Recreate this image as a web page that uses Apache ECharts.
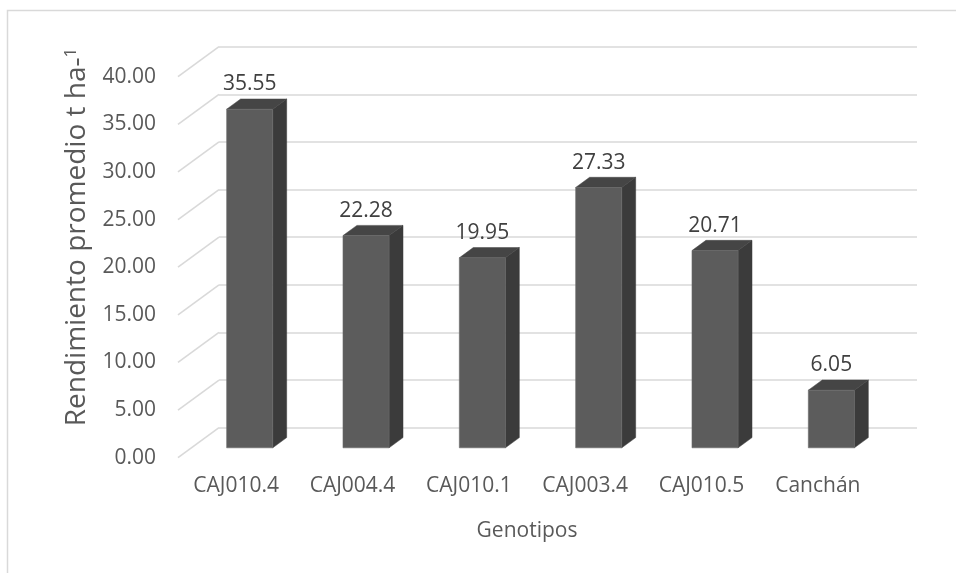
<!DOCTYPE html>
<html>
<head>
<meta charset="utf-8">
<script src="https://cdn.jsdelivr.net/npm/echarts@6/dist/echarts.min.js"></script>
<style>
  html, body { margin: 0; padding: 0; background: #ffffff; }
  #chart { width: 956px; height: 573px; }
</style>
</head>
<body>
<div id="chart"></div>
<script>
// Genotype yields (t/ha)
const genotipos = ['CAJ010.4', 'CAJ004.4', 'CAJ010.1', 'CAJ003.4', 'CAJ010.5', 'Canchán'];
const rendimiento = [35.55, 22.28, 19.95, 27.33, 20.71, 6.05];
const yTicks = [0, 5, 10, 15, 20, 25, 30, 35, 40];

const FONT = '"Open Sans", sans-serif';
const TEXT = '#595959';
const GRID = '#d9d9d9';

// depth of the 3D box: back wall -> front edge of the floor
const DEPTH_X = -41, DEPTH_Y = 30;
// bar faces sit at these fractions of the depth
const BAR_BACK = 0.33, BAR_FRONT = 0.67;

const chart = echarts.init(document.getElementById('chart'), null, { renderer: 'canvas' });

function renderBar(params, api) {
  const i = api.value(0), v = api.value(1);
  const band = api.size([1, 0])[0];
  const half = band * 0.198;
  const base = api.coord([i, 0]);
  const top = api.coord([i, v]);
  const bx = DEPTH_X * BAR_BACK, by = DEPTH_Y * BAR_BACK;
  const fx = DEPTH_X * BAR_FRONT, fy = DEPTH_Y * BAR_FRONT;
  const cxF = base[0] + fx, cxB = base[0] + bx;
  const yTopF = top[1] + fy, yBotF = base[1] + fy;
  const yTopB = top[1] + by, yBotB = base[1] + by;
  return {
    type: 'group',
    children: [
      { type: 'polygon', shape: { points: [[cxF + half, yTopF], [cxF + half, yBotF], [cxB + half, yBotB], [cxB + half, yTopB]] },
        style: { fill: '#3b3b3b', stroke: '#3b3b3b', lineWidth: 0.5 } },
      { type: 'polygon', shape: { points: [[cxF - half, yTopF], [cxF + half, yTopF], [cxB + half, yTopB], [cxB - half, yTopB]] },
        style: { fill: '#454545', stroke: '#454545', lineWidth: 0.5 } },
      { type: 'rect', shape: { x: cxF - half, y: yTopF, width: half * 2, height: yBotF - yTopF },
        style: { fill: '#5c5c5c', stroke: '#6a6a6a', lineWidth: 0.6 } },
      { type: 'text', x: cxF, y: yTopB - 4,
        style: { text: v.toFixed(2), font: '21px ' + FONT, fill: '#404040', align: 'center', verticalAlign: 'bottom' } }
    ]
  };
}

function renderSideGrid(params, api) {
  const v = api.value(0);
  const p = api.coord([0, v]);
  const x0 = params.coordSys.x;
  return {
    type: 'line',
    shape: { x1: x0 + DEPTH_X, y1: p[1] + DEPTH_Y, x2: x0, y2: p[1] },
    style: { stroke: GRID, lineWidth: 1.6 }
  };
}

chart.setOption({
  backgroundColor: '#ffffff',
  animation: false,
  textStyle: { fontFamily: FONT },
  grid: [
    { left: 219, right: 39, top: 46.7, bottom: 145.3 },
    { left: 219 + DEPTH_X, right: 39 - DEPTH_X, top: 46.7 + DEPTH_Y, bottom: 145.3 - DEPTH_Y }
  ],
  xAxis: [
    { type: 'category', gridIndex: 0, data: genotipos, axisLine: { show: false }, axisTick: { show: false }, axisLabel: { show: false } },
    { type: 'category', gridIndex: 1, data: genotipos, axisLine: { show: false }, axisTick: { show: false },
      axisLabel: { color: TEXT, fontSize: 21, fontFamily: FONT, margin: 18 },
      name: 'Genotipos', nameLocation: 'middle', nameGap: 63,
      nameTextStyle: { color: TEXT, fontSize: 21, fontFamily: FONT } }
  ],
  yAxis: [
    { type: 'value', gridIndex: 0, min: 0, max: 40, interval: 5,
      axisLine: { show: false }, axisTick: { show: false }, axisLabel: { show: false },
      splitLine: { show: true, lineStyle: { color: GRID, width: 1.6 } } },
    { type: 'value', gridIndex: 1, min: 0, max: 40, interval: 5,
      axisLine: { show: false }, axisTick: { show: false }, splitLine: { show: false },
      axisLabel: { color: TEXT, fontSize: 21, fontFamily: FONT, margin: 22, formatter: v => v.toFixed(2) } }
  ],
  graphic: [
    { type: 'rect', shape: { x: 7.5, y: 10.5, width: 1200, height: 1200 },
      style: { fill: 'none', stroke: GRID, lineWidth: 1.5 }, silent: true },
    { type: 'text', x: 77, y: 237, rotation: Math.PI / 2,
      style: {
        text: '{m|Rendimiento promedio t ha-}{s|1}',
        align: 'center', verticalAlign: 'middle',
        rich: {
          m: { font: '28px ' + FONT, fill: TEXT, fontSize: 28, color: TEXT, fontFamily: FONT },
          s: { font: '17px ' + FONT, fill: TEXT, fontSize: 17, color: TEXT, fontFamily: FONT, verticalAlign: 'top', padding: [0, 0, 12, 0] }
        }
      } }
  ],
  series: [
    { type: 'custom', name: 'side grid', xAxisIndex: 0, yAxisIndex: 0, clip: false, silent: true, z: 1,
      data: yTicks.map(t => [t]), encode: { y: 0 }, renderItem: renderSideGrid },
    { type: 'custom', name: 'Rendimiento', xAxisIndex: 0, yAxisIndex: 0, clip: false, z: 3,
      data: rendimiento.map((v, i) => [i, v]), encode: { x: 0, y: 1 }, renderItem: renderBar }
  ]
});
</script>
</body>
</html>
